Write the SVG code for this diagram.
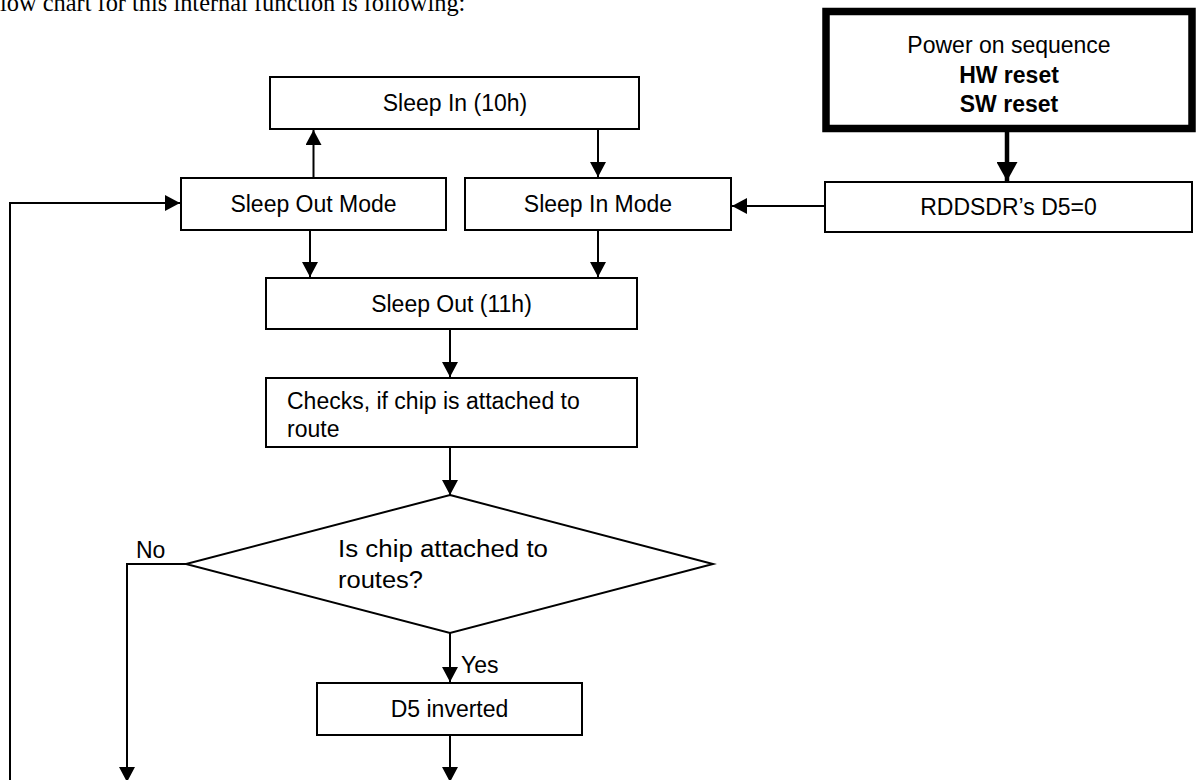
<svg xmlns="http://www.w3.org/2000/svg" width="1198" height="780" viewBox="0 0 1198 780">
<style>
.box{fill:#fff;stroke:#000;stroke-width:2}
.thick{fill:#fff;stroke:#000;stroke-width:7.5}
.lbl{font-family:"Liberation Sans",Arial,sans-serif;font-size:23px;fill:#000}
.c{text-anchor:middle}
.b{font-weight:bold}
.ln{fill:none;stroke:#000;stroke-width:2}
.tk{fill:none;stroke:#000;stroke-width:4.5}
</style>
<defs>
<marker id="ah" markerUnits="userSpaceOnUse" markerWidth="16" markerHeight="16" refX="15" refY="8" orient="auto">
<path d="M0,0 L15,8 L0,16 z" fill="#000"/>
</marker>
<marker id="ahb" markerUnits="userSpaceOnUse" markerWidth="20" markerHeight="21" refX="19" refY="10.5" orient="auto">
<path d="M0,0 L19,10.5 L0,21 z" fill="#000"/>
</marker>
</defs>
<rect width="1198" height="780" fill="#fff"/>
<text x="0" y="11" font-family="'Liberation Serif','Times New Roman',serif" font-size="24.4" fill="#000">low chart for this internal function is following:</text>

<g id="connectors">
<line class="ln" x1="313.5" y1="178" x2="313.5" y2="130" marker-end="url(#ah)"/>
<line class="ln" x1="598" y1="129" x2="598" y2="177" marker-end="url(#ah)"/>
<line class="ln" x1="310" y1="230" x2="310" y2="277" marker-end="url(#ah)"/>
<line class="ln" x1="598" y1="230" x2="598" y2="277" marker-end="url(#ah)"/>
<line class="ln" x1="450" y1="329" x2="450" y2="377" marker-end="url(#ah)"/>
<line class="ln" x1="450" y1="447" x2="450" y2="495" marker-end="url(#ah)"/>
<line class="ln" x1="450" y1="633" x2="450" y2="682" marker-end="url(#ah)"/>
<line class="ln" x1="450" y1="735" x2="450" y2="782" marker-end="url(#ah)"/>
<polyline class="ln" points="186,564 127,564 127,782" marker-end="url(#ah)"/>
<polyline class="ln" points="10,790 10,203 180,203" marker-end="url(#ah)"/>
<line class="ln" x1="825" y1="206" x2="732" y2="206" marker-end="url(#ah)"/>
<line class="tk" x1="1007" y1="132" x2="1007" y2="181" marker-end="url(#ahb)"/>
<text class="lbl" x="136" y="558">No</text>
<text class="lbl" x="461" y="673">Yes</text>
</g>

<g id="sleep-in-cmd">
<rect class="box" x="270" y="77" width="369" height="52"/>
<text class="lbl c" x="455" y="111">Sleep In (10h)</text>
</g>
<g id="sleep-out-mode">
<rect class="box" x="181" y="178" width="265" height="52"/>
<text class="lbl c" x="313.5" y="212">Sleep Out Mode</text>
</g>
<g id="sleep-in-mode">
<rect class="box" x="465" y="178" width="266" height="52"/>
<text class="lbl c" x="598" y="212">Sleep In Mode</text>
</g>
<g id="power-on">
<rect class="thick" x="826" y="11.5" width="366" height="117"/>
<text class="lbl c" x="1009" y="53">Power on sequence</text>
<text class="lbl c b" x="1009" y="82.5">HW reset</text>
<text class="lbl c b" x="1009" y="112">SW reset</text>
</g>
<g id="rddsdr">
<rect class="box" x="825" y="182" width="367" height="50"/>
<text class="lbl c" x="1008.5" y="215">RDDSDR’s D5=0</text>
</g>
<g id="sleep-out-cmd">
<rect class="box" x="266" y="278" width="371" height="51"/>
<text class="lbl c" x="451.5" y="312">Sleep Out (11h)</text>
</g>
<g id="checks">
<rect class="box" x="266" y="378" width="371" height="69"/>
<text class="lbl" x="287" y="409">Checks, if chip is attached to</text>
<text class="lbl" x="287" y="437">route</text>
</g>
<g id="decision">
<polygon class="box" points="450,495 713,564 450,633 186,564"/>
<text class="lbl" x="338" y="557" font-size="24.5" textLength="210" lengthAdjust="spacingAndGlyphs">Is chip attached to</text>
<text class="lbl" x="338" y="588" font-size="24.5" textLength="85" lengthAdjust="spacingAndGlyphs">routes?</text>
</g>
<g id="d5-inverted">
<rect class="box" x="317" y="683" width="265" height="52"/>
<text class="lbl c" x="449.5" y="717">D5 inverted</text>
</g>
</svg>
